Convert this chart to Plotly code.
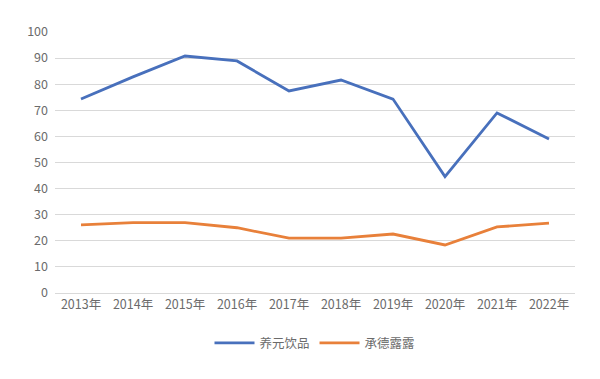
import plotly.graph_objects as go

years = ["2013年", "2014年", "2015年", "2016年", "2017年", "2018年", "2019年", "2020年", "2021年", "2022年"]
yangyuan = [74.3, 82.8, 90.8, 88.9, 77.4, 81.6, 74.3, 44.6, 69.0, 59.0]
chengde = [26.1, 27.0, 27.0, 25.0, 21.0, 21.0, 22.6, 18.4, 25.3, 26.8]
yticks = [0, 10, 20, 30, 40, 50, 60, 70, 80, 90, 100]

font = "Noto Sans CJK SC, Noto Sans, sans-serif"
fig = go.Figure()
fig.add_trace(go.Scatter(x=years, y=yangyuan, mode="lines", name="养元饮品",
                         line=dict(color="#4870BC", width=2.8)))
fig.add_trace(go.Scatter(x=years, y=chengde, mode="lines", name="承德露露",
                         line=dict(color="#E8803A", width=2.8)))
fig.update_layout(
    width=600, height=379,
    margin=dict(l=55, r=25, t=32, b=86),
    plot_bgcolor="white", paper_bgcolor="white",
    font=dict(family=font, size=12, color="#6b6b6b"),
    xaxis=dict(type="category", range=[-0.5, 9.5], showgrid=False, showline=True,
               linecolor="#D9D9D9", linewidth=1, ticks="", tickfont=dict(size=12.5, color="#6b6b6b")),
    yaxis=dict(range=[0, 100], tickvals=yticks, showgrid=True, gridcolor="#D9D9D9",
               gridwidth=1, zeroline=False, showline=False, ticks="",
               tickfont=dict(size=12.5, color="#6b6b6b"), ticklabelstandoff=6),
    legend=dict(orientation="h", x=0.5, xanchor="center", y=-0.135, yanchor="top",
                font=dict(size=12.5, color="#6b6b6b"), itemwidth=40),
    showlegend=True,
)
fig.write_html("out.html")
